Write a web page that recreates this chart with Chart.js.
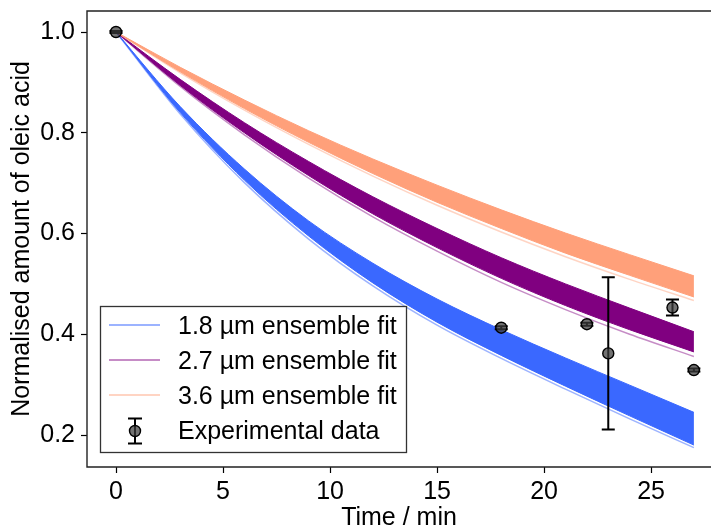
<!DOCTYPE html>
<html><head><meta charset="utf-8">
<script src="https://cdn.jsdelivr.net/npm/chart.js@4.4.1/dist/chart.umd.min.js"></script>
<style>html,body{margin:0;padding:0;background:#fff;overflow:hidden;}</style>
</head><body>
<canvas id="c" width="711" height="527" style="display:block;width:711px;height:527px"></canvas>
<script>
// ---- data ----
const timeGrid     = [0, 3, 6, 9, 12, 15, 18, 21, 24, 27];
const blueUpper    = [1.0, 0.852, 0.728, 0.625, 0.541, 0.470, 0.409, 0.353, 0.299, 0.245];
const blueLower    = [1.0, 0.840, 0.706, 0.595, 0.502, 0.424, 0.358, 0.297, 0.238, 0.180];
const blueFringe   = [1.0, 0.837, 0.701, 0.589, 0.496, 0.418, 0.352, 0.291, 0.232, 0.175];
const purpleUpper  = [1.0, 0.906, 0.820, 0.743, 0.673, 0.610, 0.552, 0.500, 0.452, 0.405];
const purpleLower  = [1.0, 0.894, 0.800, 0.715, 0.639, 0.572, 0.511, 0.457, 0.409, 0.365];
const purpleFringe = [1.0, 0.892, 0.796, 0.710, 0.633, 0.565, 0.503, 0.449, 0.400, 0.356];
const orangeUpper  = [1.0, 0.930, 0.865, 0.804, 0.748, 0.696, 0.647, 0.601, 0.558, 0.516];
const orangeLower  = [1.0, 0.921, 0.848, 0.781, 0.719, 0.662, 0.610, 0.561, 0.517, 0.474];
const orangeFringe = [1.0, 0.919, 0.845, 0.777, 0.714, 0.656, 0.603, 0.554, 0.509, 0.467];
const expTime  = [0, 18, 22, 23, 26, 27];
const expValue = [1.0, 0.413, 0.420, 0.362, 0.453, 0.329];
const expError = [0.002, 0.003, 0.003, 0.151, 0.016, 0.003];
const xTicks = [0, 5, 10, 15, 20, 25];
const yTicks = [0.2, 0.4, 0.6, 0.8, 1.0];
const legendLabels = ['1.8 µm ensemble fit', '2.7 µm ensemble fit', '3.6 µm ensemble fit', 'Experimental data'];

const FONT = '"Liberation Sans", Arial, Helvetica, sans-serif';
const FS = 25;
const BLUE = '#3a68ff', PURPLE = '#800080', ORANGE = '#ffa07a';
const BLUE_L = 'rgba(58,104,255,0.5)', PURPLE_L = 'rgba(128,0,128,0.45)', ORANGE_L = 'rgba(255,160,122,0.45)';

function pts(ys) { return timeGrid.map((t, i) => ({x: t, y: ys[i]})); }
function band(data, color, order, fillTarget, width) {
  return {data: pts(data), borderColor: color, backgroundColor: color, borderWidth: width,
    pointRadius: 0, cubicInterpolationMode: 'monotone', fill: fillTarget === null ? false : {target: fillTarget}, order: order};
}

const datasets = [
  band(blueUpper, BLUE, 12, null, 1),          // 0
  band(blueLower, BLUE, 11, 0, 1),             // 1
  band(blueFringe, BLUE_L, 10, null, 1.5),     // 2
  band(purpleUpper, PURPLE, 9, null, 1),       // 3
  band(purpleLower, PURPLE, 8, 3, 1),          // 4
  band(purpleFringe, PURPLE_L, 7, null, 1.5),  // 5
  band(orangeUpper, ORANGE, 6, null, 1),       // 6
  band(orangeLower, ORANGE, 5, 6, 1),          // 7
  band(orangeFringe, ORANGE_L, 4, null, 1.5),  // 8
  {data: expTime.map((t, i) => ({x: t, y: expValue[i]})), showLine: false, pointRadius: 5.5,
   pointBackgroundColor: 'rgba(60,60,60,0.72)', pointBorderColor: '#000', pointBorderWidth: 1.4, order: 0, isExp: true}
];

const errorBars = {
  id: 'errorBars',
  beforeDatasetDraw(chart, args) {
    if (!chart.data.datasets[args.index].isExp) return;
    const {ctx, scales: {x, y}} = chart;
    ctx.save();
    ctx.strokeStyle = '#000'; ctx.lineWidth = 2;
    expTime.forEach((t, i) => {
      const px = x.getPixelForValue(t);
      const top = y.getPixelForValue(expValue[i] + expError[i]);
      const bot = y.getPixelForValue(expValue[i] - expError[i]);
      ctx.beginPath();
      ctx.moveTo(px, top); ctx.lineTo(px, bot);
      ctx.moveTo(px - 6.5, top); ctx.lineTo(px + 6.5, top);
      ctx.moveTo(px - 6.5, bot); ctx.lineTo(px + 6.5, bot);
      ctx.stroke();
    });
    ctx.restore();
  }
};

const frameAndLegend = {
  id: 'frameAndLegend',
  afterDraw(chart) {
    const {ctx, chartArea: a} = chart;
    const R = chart.width + 2;
    ctx.save();
    ctx.strokeStyle = '#222'; ctx.lineWidth = 1.4;
    ctx.beginPath();
    ctx.moveTo(R, a.top); ctx.lineTo(a.left, a.top); ctx.lineTo(a.left, a.bottom); ctx.lineTo(R, a.bottom);
    ctx.stroke();
    // legend
    const L = a.left + 13, T = a.bottom - 161, W = 307, H = 147;
    ctx.fillStyle = '#fff'; ctx.fillRect(L, T, W, H);
    ctx.strokeStyle = '#333'; ctx.lineWidth = 1.3; ctx.strokeRect(L + 0.5, T + 0.5, W - 1, H - 1);
    const rows = [T + 20, T + 55, T + 90, T + 125];
    const cols = [BLUE_L, PURPLE_L, ORANGE_L];
    cols.forEach((c, i) => {
      ctx.strokeStyle = c; ctx.lineWidth = 2;
      ctx.beginPath(); ctx.moveTo(L + 9, rows[i] - 1); ctx.lineTo(L + 60, rows[i] - 1); ctx.stroke();
    });
    // errorbar handle
    const hx = L + 35, hy = rows[3];
    ctx.strokeStyle = '#000'; ctx.lineWidth = 2;
    ctx.beginPath();
    ctx.moveTo(hx, hy - 12.5); ctx.lineTo(hx, hy + 12.5);
    ctx.moveTo(hx - 7, hy - 12.5); ctx.lineTo(hx + 7, hy - 12.5);
    ctx.moveTo(hx - 7, hy + 12.5); ctx.lineTo(hx + 7, hy + 12.5);
    ctx.stroke();
    ctx.beginPath(); ctx.arc(hx, hy, 5.5, 0, Math.PI * 2);
    ctx.fillStyle = 'rgba(60,60,60,0.72)'; ctx.fill();
    ctx.lineWidth = 1.4; ctx.stroke();
    ctx.fillStyle = '#000'; ctx.font = FS + 'px ' + FONT; ctx.textBaseline = 'middle'; ctx.textAlign = 'left';
    legendLabels.forEach((s, i) => ctx.fillText(s, L + 78, rows[i] + 1));
    ctx.restore();
  }
};

new Chart(document.getElementById('c'), {
  type: 'line',
  data: {datasets},
  plugins: [errorBars, frameAndLegend],
  options: {
    responsive: false, animation: false, devicePixelRatio: 1, events: [],
    layout: {autoPadding: false, padding: {top: 11, right: 0, left: 0, bottom: 0}},
    plugins: {legend: {display: false}, tooltip: {enabled: false}},
    scales: {
      x: {
        type: 'linear', min: -1.355, max: 27.8,
        afterBuildTicks: s => { s.ticks = xTicks.map(v => ({value: v})); },
        afterFit: s => { s.height = 60; s.paddingLeft = 0; s.paddingRight = 0; },
        grid: {drawOnChartArea: false, drawTicks: true, tickLength: 6, tickColor: '#000', tickWidth: 1.2},
        border: {display: false},
        ticks: {font: {family: FONT, size: FS}, color: '#000', padding: 4, maxRotation: 0, autoSkip: false,
                callback: v => String(v)},
        title: {display: true, text: 'Time / min', color: '#000', font: {family: FONT, size: FS, lineHeight: 1},
                padding: {top: 0, bottom: -4}}
      },
      y: {
        type: 'linear', min: 0.1365, max: 1.0417,
        afterBuildTicks: s => { s.ticks = yTicks.map(v => ({value: v})); },
        afterFit: s => { s.width = 87; s.paddingTop = 0; s.paddingBottom = 0; },
        grid: {drawOnChartArea: false, drawTicks: true, tickLength: 6, tickColor: '#000', tickWidth: 1.2},
        border: {display: false},
        ticks: {font: {family: FONT, size: FS}, color: '#000', padding: 6, autoSkip: false,
                callback: v => v.toFixed(1)},
        title: {display: true, text: 'Normalised amount of oleic acid', color: '#000',
                font: {family: FONT, size: FS, lineHeight: 1}, padding: {top: 10, bottom: 0}}
      }
    }
  }
});
</script>
</body></html>
